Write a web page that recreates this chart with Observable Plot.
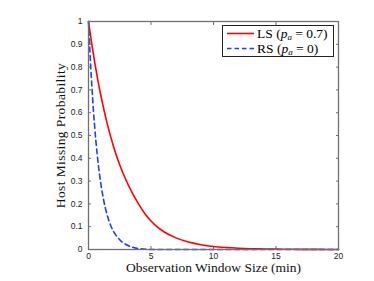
<!DOCTYPE html>
<html>
<head>
<meta charset="utf-8">
<script src="https://cdn.jsdelivr.net/npm/d3@7"></script>
<script src="https://cdn.jsdelivr.net/npm/@observablehq/plot@0.6"></script>
<style>
  html, body { margin: 0; padding: 0; background: #fff; }
  #wrap { position: relative; width: 374px; height: 281px; }
  #legend {
    position: absolute; left: 222px; top: 25px; width: 112px; height: 32px;
    border: 1px solid #222; background: #fff; box-sizing: border-box;
    font-family: "Liberation Serif", serif; font-size: 13.5px; color: #000;
  }
  .row { position: absolute; left: 0; height: 15px; line-height: 15px; white-space: nowrap; }
  .row svg { position: absolute; left: 4px; top: 6px; }
  .row span { position: absolute; left: 34px; top: 0; }
  sub { font-size: 9px; vertical-align: -2px; line-height: 0; }
</style>
</head>
<body>
<div id="wrap"></div>
<script>
// Observation window size (min) and host missing probability
const lsX = [0, 0.25, 0.5, 0.75, 1, 1.5, 2, 2.5, 3, 3.5, 4, 4.5, 5, 5.5, 6, 7, 8, 9, 10, 11, 12, 13, 14, 15, 16, 17, 18, 19, 20];
const lsY = [1, 0.905, 0.82, 0.742, 0.672, 0.551, 0.452, 0.371, 0.305, 0.248, 0.2, 0.158, 0.125, 0.099, 0.079, 0.051, 0.033, 0.021, 0.013, 0.0085, 0.0055, 0.0036, 0.0023, 0.0015, 0.001, 0.0006, 0.0004, 0.0003, 0.0002];
const rsX = [0, 0.1, 0.2, 0.3, 0.4, 0.5, 0.6, 0.7, 0.8, 0.9, 1.0, 1.2, 1.4, 1.6, 1.8, 2.0, 2.3, 2.6, 3.0, 3.4, 3.8, 4.2, 4.6, 5, 20];
const rsY = [1, 0.885, 0.78, 0.69, 0.605, 0.535, 0.47, 0.415, 0.365, 0.322, 0.284, 0.22, 0.17, 0.132, 0.102, 0.079, 0.055, 0.037, 0.022, 0.012, 0.006, 0.003, 0.001, 0, 0];
const xTicks = [0, 5, 10, 15, 20];
const yTicks = [0, 0.1, 0.2, 0.3, 0.4, 0.5, 0.6, 0.7, 0.8, 0.9, 1];
const seriesNames = ["LS", "RS"];
const seriesParams = ["0.7", "0"];
const seriesColors = ["#ff0000", "#1f3dff"];

const ls = lsX.map((x, i) => ({x, y: lsY[i]}));
const rs = rsX.map((x, i) => ({x, y: rsY[i]}));

const axisColor = "#707070";
const plot = Plot.plot({
  width: 374,
  height: 281,
  marginLeft: 88,
  marginRight: 36,
  marginTop: 21,
  marginBottom: 32,
  style: {fontFamily: "Liberation Sans, Arial, sans-serif", fontSize: "8.5px", color: "#222", background: "#fff"},
  x: {domain: [0, 20]},
  y: {domain: [0, 1]},
  marks: [
    Plot.axisX({ticks: xTicks, tickSize: -3, tickPadding: 6, stroke: axisColor, label: null}),
    Plot.axisX({anchor: "top", ticks: xTicks, tickSize: -3, tickFormat: () => "", stroke: axisColor, label: null}),
    Plot.axisY({ticks: yTicks, tickSize: -3, tickPadding: 9, stroke: axisColor, label: null, tickFormat: d => d === 0 ? "0" : d === 1 ? "1" : d3.format(".1f")(d)}),
    Plot.axisY({anchor: "right", ticks: yTicks, tickSize: -3, tickFormat: () => "", stroke: axisColor, label: null}),
    Plot.line(ls, {x: "x", y: "y", stroke: seriesColors[0], strokeWidth: 1.6, curve: "monotone-x"}),
    Plot.line(rs, {x: "x", y: "y", stroke: seriesColors[1], strokeWidth: 1.6, strokeDasharray: "5,3.5", curve: "monotone-x"}),
    Plot.frame({stroke: axisColor, strokeWidth: 1.3}),
    Plot.text(["Observation Window Size (min)"], {frameAnchor: "bottom", dy: 22, textAnchor: "middle", fontFamily: "Liberation Serif, serif", fontSize: 13.5, fill: "#111"}),
    Plot.text(["Host Missing Probability"], {frameAnchor: "left", dx: -28, rotate: -90, textAnchor: "middle", fontFamily: "Liberation Serif, serif", fontSize: 13.5, fill: "#111", className: "ytitle"})
  ]
});
d3.select(plot).selectAll(".ytitle text").attr("letter-spacing", "0.4px");
const wrap = document.getElementById("wrap");
wrap.appendChild(plot);

const legend = document.createElement("div");
legend.id = "legend";
seriesNames.forEach((name, i) => {
  const row = document.createElement("div");
  row.className = "row";
  row.style.top = (i === 0 ? 0 : 15) + "px";
  const dash = i === 0 ? "" : ` stroke-dasharray="4.5,3"`;
  row.innerHTML = `<svg width="28" height="3"><line x1="0" x2="27" y1="1.5" y2="1.5" stroke="${seriesColors[i]}" stroke-width="1.6"${dash}/></svg>` +
    `<span>${name} (<i>p</i><sub><i>a</i></sub> = ${seriesParams[i]})</span>`;
  legend.appendChild(row);
});
wrap.appendChild(legend);
</script>
</body>
</html>
